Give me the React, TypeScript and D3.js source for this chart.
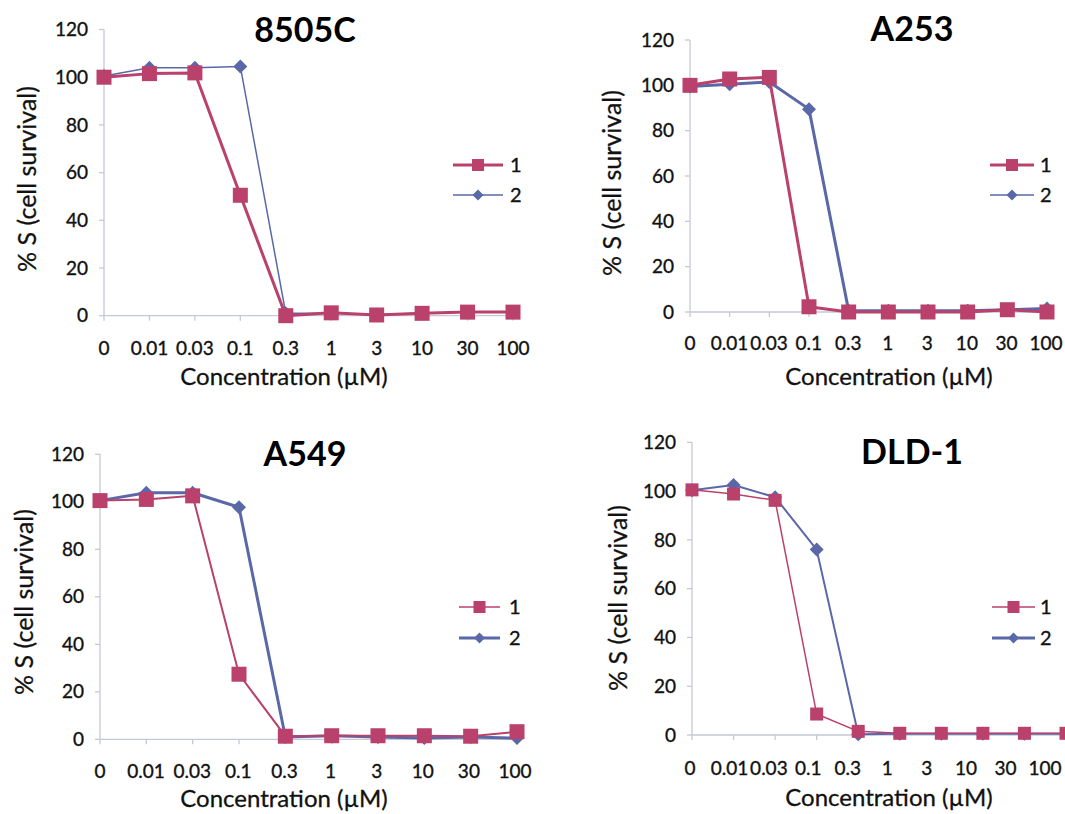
import React from 'react';
import * as d3 from 'd3';

// x categories (µM) and y ticks shared by all four panels
const concentrations = ['0', '0.01', '0.03', '0.1', '0.3', '1', '3', '10', '30', '100'];
const yTicks = [0, 20, 40, 60, 80, 100, 120];
const seriesNames = ['1', '2'];

// % cell survival
const s8505C_1 = [100, 101.5, 101.8, 50.5, 0, 1.2, 0.3, 1, 1.5, 1.5];
const s8505C_2 = [100.5, 104, 104, 104.5, 1, 1, 0.5, 1, 1.5, 1.5];
const a253_1 = [100, 102.8, 103.5, 2.3, 0, 0, 0, 0, 1, 0];
const a253_2 = [99.5, 100.5, 101.5, 89.5, 0.5, 0.5, 0.5, 0.5, 1, 1.5];
const a549_1 = [100.5, 101, 102.5, 27.4, 1.3, 1.5, 1.5, 1.5, 1.3, 3.2];
const a549_2 = [100.5, 103.8, 103.8, 97.7, 1, 1.5, 1, 0.5, 1, 0.5];
const dld1_1 = [100.5, 98.8, 96.2, 8.6, 1.5, 0.7, 0.7, 0.7, 0.7, 0.7];
const dld1_2 = [100.3, 102.5, 97.5, 76, 0.3, 0.5, 0.5, 0.5, 0.5, 0.5];

const RED = '#b9416b';
const BLUE = '#5a68a8';
const AXIS = '#c5c9d6';
const INK = '#111';
const FONT = 'Lato, "Open Sans", sans-serif';

const panels = [
  {
    title: '8505C', s1: s8505C_1, s2: s8505C_2,
    px: [104, 513], lx: [104, 513], y: [315.7, 29.5],
    tickY: 348, axTitle: [284, 377], titlePos: [305, 30], yLab: [27, 179],
    leg: [453, 503, 510], legY: [165, 195],
    w: [3, 1.5], lw: [3, 1.5], sq: 15, dia: 7,
  },
  {
    title: 'A253', s1: a253_1, s2: a253_2,
    px: [690, 1047], lx: [690, 1046], y: [312, 40],
    tickY: 343, axTitle: [889, 377], titlePos: [912, 29], yLab: [612, 183],
    leg: [990, 1034, 1040], legY: [165, 195],
    w: [3, 3], lw: [3, 1.5], sq: 15, dia: 7,
  },
  {
    title: 'A549', s1: a549_1, s2: a549_2,
    px: [100, 517], lx: [100, 515], y: [739.3, 454.3],
    tickY: 771, axTitle: [284, 799], titlePos: [305, 454], yLab: [24, 602],
    leg: [459, 500, 509], legY: [607, 638],
    w: [2, 3], lw: [1.5, 3], sq: 15, dia: 7,
  },
  {
    title: 'DLD-1', s1: dld1_1, s2: dld1_2,
    px: [692, 1066], lx: [690, 1045], y: [735, 442.3],
    tickY: 768, axTitle: [889, 798], titlePos: [912, 452], yLab: [618, 598],
    leg: [992, 1035, 1040], legY: [607, 638],
    w: [1.5, 2], lw: [1.5, 3], sq: 13, dia: 7,
  },
];

function diamond(cx: number, cy: number, r: number) {
  return `M${cx},${cy - r}L${cx + r},${cy}L${cx},${cy + r}L${cx - r},${cy}Z`;
}

function Panel({ p }: { p: typeof panels[number] }) {
  const x = d3.scalePoint<string>().domain(concentrations).range(p.px as [number, number]);
  const xl = d3.scalePoint<string>().domain(concentrations).range(p.lx as [number, number]);
  const y = d3.scaleLinear().domain([0, 120]).range(p.y as [number, number]);
  const line = d3.line<number>()
    .x((_, i) => x(concentrations[i]) as number)
    .y(d => y(d));
  const ax = p.px[0];
  const half = p.sq / 2;
  const label = { fill: INK, stroke: INK, strokeWidth: 0.35 };

  return (
    <g>
      {/* y axis */}
      <line x1={ax} x2={ax} y1={y(0)} y2={y(120)} stroke={AXIS} strokeWidth={1.3} />
      {yTicks.map(t => (
        <g key={t}>
          <line x1={ax - 5} x2={ax} y1={y(t)} y2={y(t)} stroke={AXIS} strokeWidth={1.3} />
          <text x={ax - 16} y={y(t)} dy="0.35em" textAnchor="end" fontSize={19} {...label}>{t}</text>
        </g>
      ))}
      {/* x axis */}
      <line x1={ax} x2={x(concentrations[concentrations.length - 1])} y1={y(0)} y2={y(0)} stroke={AXIS} strokeWidth={1.3} />
      {concentrations.map(c => (
        <g key={c}>
          <line x1={x(c)} x2={x(c)} y1={y(0)} y2={y(0) + 5} stroke={AXIS} strokeWidth={1.3} />
          <text x={xl(c)} y={p.tickY} dy="0.35em" textAnchor="middle" fontSize={19} {...label}>{c}</text>
        </g>
      ))}

      {/* series 2 (blue diamonds) under series 1 (red squares) */}
      <path d={line(p.s2) as string} fill="none" stroke={BLUE} strokeWidth={p.w[1]} strokeLinejoin="round" />
      {p.s2.map((v, i) => (
        <path key={i} d={diamond(x(concentrations[i]) as number, y(v), p.dia)} fill={BLUE} />
      ))}
      <path d={line(p.s1) as string} fill="none" stroke={RED} strokeWidth={p.w[0]} strokeLinejoin="round" />
      {p.s1.map((v, i) => (
        <rect key={i} x={(x(concentrations[i]) as number) - half} y={y(v) - half} width={p.sq} height={p.sq} fill={RED} />
      ))}

      {/* legend */}
      {seriesNames.map((n, i) => {
        const ly = p.legY[i];
        const mx = (p.leg[0] + p.leg[1]) / 2;
        return (
          <g key={n}>
            <line x1={p.leg[0]} x2={p.leg[1]} y1={ly} y2={ly} stroke={i === 0 ? RED : BLUE} strokeWidth={p.lw[i]} />
            {i === 0
              ? <rect x={mx - 6} y={ly - 6} width={12} height={12} fill={RED} />
              : <path d={diamond(mx, ly, 5.5)} fill={BLUE} />}
            <text x={p.leg[2]} y={ly} dy="0.35em" fontSize={20} {...label}>{n}</text>
          </g>
        );
      })}

      {/* titles */}
      <text x={p.titlePos[0]} y={p.titlePos[1]} dy="0.35em" textAnchor="middle" fontSize={34} fontWeight="bold" fill="#000">{p.title}</text>
      <text x={p.axTitle[0]} y={p.axTitle[1]} dy="0.35em" textAnchor="middle" fontSize={24} fill={INK} stroke={INK} strokeWidth={0.3}>Concentration (µM)</text>
      <text transform={`translate(${p.yLab[0]},${p.yLab[1]}) rotate(-90)`} dy="0.35em" textAnchor="middle" fontSize={25} fill={INK} stroke={INK} strokeWidth={0.3}>% S (cell survival)</text>
    </g>
  );
}

export default function App() {
  return (
    <svg width={1065} height={814} style={{ position: 'absolute', left: 0, top: 0, background: '#fff' }} fontFamily={FONT}>
      <rect width={1065} height={814} fill="#fff" />
      {panels.map(p => <Panel key={p.title} p={p} />)}
    </svg>
  );
}
